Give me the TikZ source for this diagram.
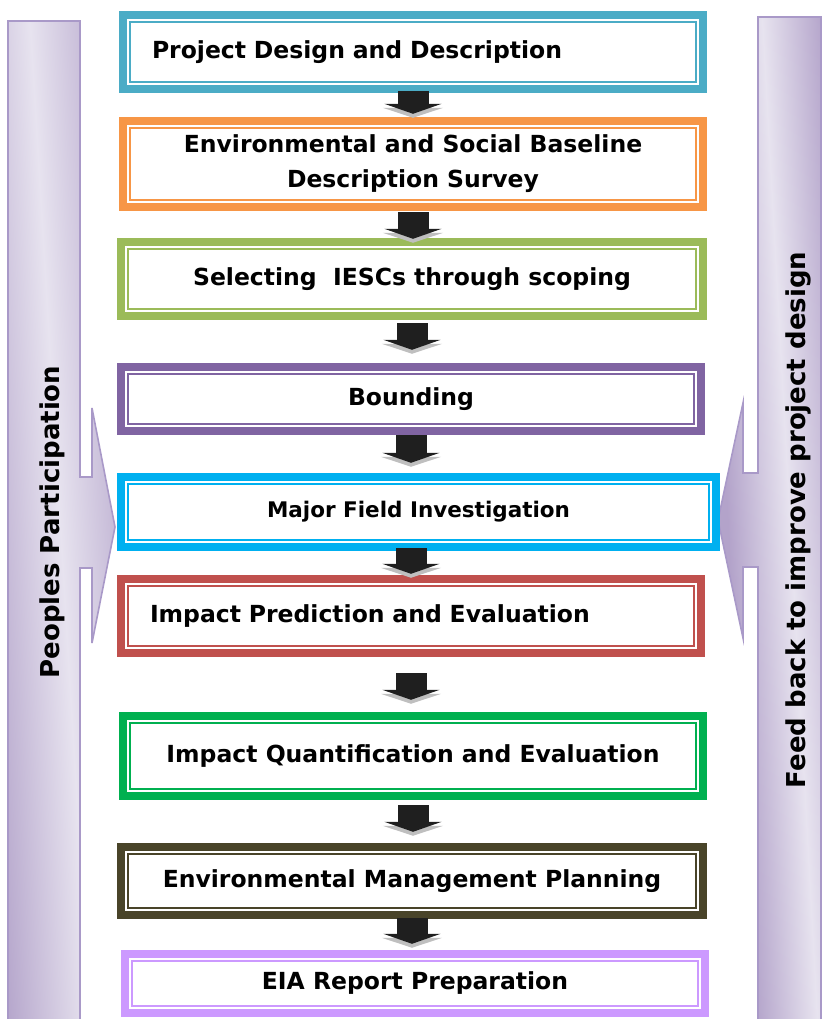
\documentclass[tikz,border=0pt]{standalone}
\usepackage{fontspec}
\setmainfont{DejaVu Sans}
\usetikzlibrary{arrows.meta}
\definecolor{cProj}{HTML}{4BACC6}
\definecolor{cBase}{HTML}{F79646}
\definecolor{cScop}{HTML}{9BBB59}
\definecolor{cBoun}{HTML}{8064A2}
\definecolor{cFiel}{HTML}{00B0F0}
\definecolor{cPred}{HTML}{C0504D}
\definecolor{cQuan}{HTML}{00B050}
\definecolor{cPlan}{HTML}{494429}
\definecolor{cRepo}{HTML}{CC99FF}
\definecolor{bandline}{HTML}{A999C8}
\definecolor{banddark}{HTML}{B3A3CA}
\definecolor{bandlight}{HTML}{E7E3EF}
\tikzset{
  stg/.style={fill=#1, inner sep=0pt, minimum width=588pt, minimum height=82pt,
    font=\bfseries\fontsize{23.5}{35}\selectfont, align=center,
    path picture={
      \fill[white] ([xshift=8pt,yshift=8pt]path picture bounding box.south west)
        rectangle ([xshift=-8pt,yshift=-8pt]path picture bounding box.north east);
      \draw[#1, line width=2pt] ([xshift=11pt,yshift=11pt]path picture bounding box.south west)
        rectangle ([xshift=-11pt,yshift=-11pt]path picture bounding box.north east);
    }},
  flow/.style={line width=31pt, draw=black!88, -{Triangle[length=10pt,width=57pt]},
    preaction={draw=black!25, line width=31pt, -{Triangle[length=10pt,width=60pt]}, transform canvas={yshift=-4pt}}},
  band/.style={draw=bandline, line width=1.6pt, fill=banddark},
  gloss/.style={left color=banddark, right color=banddark, middle color=bandlight, transform canvas={xslant=#1}},
  sidetxt/.style={rotate=90, font=\bfseries\fontsize{26}{30}\selectfont}
}
\begin{document}
\begin{tikzpicture}[x=1pt,y=-1pt]
\useasboundingbox (0,0) rectangle (824,1019);
\draw[band, path picture={\shade[gloss=-0.06] (-58,0) rectangle (86,1030);}] (8,21) -- (80,21) -- (80,477) -- (92,477) -- (92,408) -- (115,527) -- (92,643) -- (92,568) -- (80,568) -- (80,1022) -- (8,1022) -- cycle;
\draw[band, path picture={\shade[gloss=-0.055] (699,0) rectangle (823,1030);}] (758,17) -- (821,17) -- (821,1022) -- (758,1022) -- (758,567) -- (743,567) -- (743,638) -- (718,520) -- (743,403) -- (743,473) -- (758,473) -- cycle;
\node[sidetxt] (pp) at (52,522) {Peoples Participation};
\node[sidetxt] (fb) at (798,520) {Feed back to improve project design};
\node[stg=cProj, align=left, text width=522pt] (stg1) at (413,52) {Project Design and Description};
\node[stg=cBase, minimum height=94pt] (stg2) at (413,164) {Environmental and Social Baseline\\Description Survey};
\node[stg=cScop, minimum width=590pt] (stg3) at (412,279) {Selecting~ IESCs through scoping};
\node[stg=cBoun, minimum height=72pt] (stg4) at (411,399) {Bounding};
\node[stg=cFiel, minimum width=603pt, minimum height=78pt, font=\bfseries\fontsize{21.5}{30}\selectfont] (stg5) at (418.5,512) {Major Field Investigation};
\node[stg=cPred, align=left, text width=522pt] (stg6) at (411,616) {Impact Prediction and Evaluation};
\node[stg=cQuan, minimum height=88pt] (stg7) at (413,756) {Impact Quantification and Evaluation};
\node[stg=cPlan, minimum width=590pt, minimum height=76pt] (stg8) at (412,881) {Environmental Management Planning};
\node[stg=cRepo, minimum height=67pt] (stg9) at (415,983.5) {EIA Report Preparation};
\draw[flow, shorten <=-2pt, shorten >=3pt] (stg1.south) -- (stg1.south |- stg2.north);
\draw[flow, shorten <=1pt, shorten >=-1pt] (stg2.south) -- (stg2.south |- stg3.north);
\draw[flow, shorten <=3pt, shorten >=13pt] (stg3.south) -- (stg3.south |- stg4.north);
\draw[flow, shorten <=0pt, shorten >=10pt] (stg4.south) -- (stg4.south |- stg5.north);
\draw[flow, shorten <=-3pt, shorten >=1pt] (stg4.south |- stg5.south) -- (stg4.south |- stg6.north);
\draw[flow, shorten <=16pt, shorten >=12pt] (stg6.south) -- (stg6.south |- stg7.north);
\draw[flow, shorten <=5pt, shorten >=11pt] (stg7.south) -- (stg7.south |- stg8.north);
\draw[flow, shorten <=-1pt, shorten >=6pt] (stg8.south) -- (stg8.south |- stg9.north);
\end{tikzpicture}
\end{document}
